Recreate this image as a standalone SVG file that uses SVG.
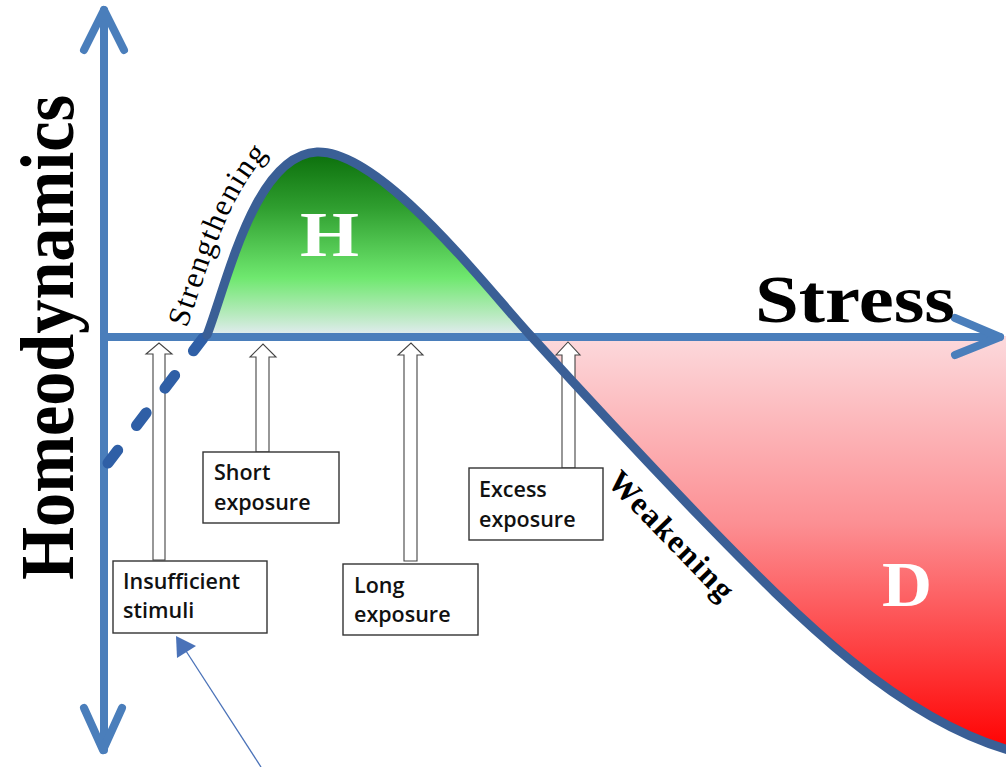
<svg xmlns="http://www.w3.org/2000/svg" width="1006" height="767" viewBox="0 0 1006 767">
  <defs>
    <linearGradient id="gradGreen" x1="0" y1="152" x2="0" y2="337" gradientUnits="userSpaceOnUse">
      <stop offset="0" stop-color="#0b6e0b"/>
      <stop offset="0.3" stop-color="#2f9e2f"/>
      <stop offset="0.68" stop-color="#6fe86f"/>
      <stop offset="0.88" stop-color="#b8eabf"/>
      <stop offset="1" stop-color="#e6ecf5"/>
    </linearGradient>
    <linearGradient id="gradRed" x1="0" y1="337" x2="0" y2="752" gradientUnits="userSpaceOnUse">
      <stop offset="0" stop-color="#fcd9dc"/>
      <stop offset="0.45" stop-color="#fc8f93"/>
      <stop offset="1" stop-color="#ff0000"/>
    </linearGradient>
    <path id="strengthPath" d="M186,330 C207,274 241,133 317,130"/>
    <style>
      .axis { fill: none; stroke: #4a7ebb; stroke-width: 8; stroke-linecap: round; stroke-linejoin: round; }
      .curve { fill: none; stroke: #3a5f96; stroke-width: 9; stroke-linecap: round; }
      .dash { fill: none; stroke: #2f5fa6; stroke-width: 11; stroke-linecap: round; stroke-dasharray: 16 31; }
      .block { fill: #ffffff; stroke: #444444; stroke-width: 1.1; }
      .box { fill: #ffffff; stroke: #333333; stroke-width: 1.4; }
      .lbl { font-family: "Open Sans", "Liberation Sans", sans-serif; font-weight: 600; font-size: 21.5px; fill: #111111; }
      .serif { font-family: "Liberation Serif", "Times New Roman", serif; }
      .big { font-weight: bold; fill: #000000; }
      .zone { font-weight: bold; fill: #ffffff; font-size: 64px; }
    </style>
  </defs>

  <rect width="1006" height="767" fill="#ffffff"/>

  <!-- shaded zones under / over the response curve -->
  <g id="zones">
    <path id="zoneH" d="M207,336 C228,280 255,155 317,152 C380,150 480,280 530,336 Z" fill="url(#gradGreen)"/>
    <path id="zoneD" d="M530,336 C580,390 650,465 700,517 C800,620 900,720 1010,751 L1010,336 Z" fill="url(#gradRed)"/>
  </g>

  <!-- axes -->
  <g id="axes">
    <line class="axis" x1="104" y1="10" x2="104" y2="750"/>
    <polyline class="axis" points="84,50 104,10 124,50"/>
    <polyline class="axis" points="84,708 103,750 122,708"/>
    <line class="axis" x1="104" y1="337" x2="1000" y2="337"/>
    <polyline class="axis" points="955,318 1000,337 955,355"/>
  </g>

  <g id="connectors">
    <!-- block arrows pointing at the stress axis -->
    <polygon class="block" points="153,560 153,354 146,354 159,343 172,354 165,354 165,560"/>
    <polygon class="block" points="256,452 256,357 250,357 263,344 276,357 269,357 269,452"/>
    <polygon class="block" points="404,561 404,355 398,355 411,343 423,355 417,355 417,561"/>
    <polygon class="block" points="562,468 562,355 556,355 568,342 580,355 575,355 575,468"/>
    <!-- response curve, dashed below the threshold -->
    <path class="dash" d="M108,463 L207,333"/>
    <path class="curve" d="M207,335 C228,280 255,155 317,152 C380,150 480,280 530,335 C580,390 650,465 700,517 C800,620 900,720 1012,751"/>
    <!-- thin pointer -->
    <line x1="186" y1="651" x2="261" y2="767" stroke="#4a72b8" stroke-width="1.3"/>
    <polygon points="176,636 177,658 196,646" fill="#4a72b8"/>
  </g>

  <!-- exposure labels -->
  <g id="insufficient">
    <rect class="box" x="113" y="561" width="154" height="72"/>
    <text class="lbl" x="123" y="589">Insufficient</text>
    <text class="lbl" x="123" y="618">stimuli</text>
  </g>
  <g id="short">
    <rect class="box" x="203" y="452" width="136" height="71"/>
    <text class="lbl" x="214" y="480">Short</text>
    <text class="lbl" x="214" y="510">exposure</text>
  </g>
  <g id="long">
    <rect class="box" x="343" y="564" width="135" height="71"/>
    <text class="lbl" x="354" y="593">Long</text>
    <text class="lbl" x="354" y="622">exposure</text>
  </g>
  <g id="excess">
    <rect class="box" x="469" y="468" width="134" height="72"/>
    <text class="lbl" x="479" y="497">Excess</text>
    <text class="lbl" x="479" y="527">exposure</text>
  </g>

  <!-- axis titles and zone letters -->
  <g id="titles">
    <text class="serif big" font-size="76" transform="translate(73,580) rotate(-90)" textLength="485" lengthAdjust="spacingAndGlyphs">Homeodynamics</text>
    <text class="serif big" font-size="68" x="755" y="322" textLength="200" lengthAdjust="spacingAndGlyphs">Stress</text>
    <text class="serif zone" x="300" y="256" textLength="59" lengthAdjust="spacingAndGlyphs">H</text>
    <text class="serif zone" x="882" y="606" textLength="50" lengthAdjust="spacingAndGlyphs">D</text>
    <text class="serif" font-size="31" fill="#000000" letter-spacing="1.6"><textPath href="#strengthPath" startOffset="2">Strengthening</textPath></text>
    <text class="serif" font-size="32" font-weight="bold" fill="#000000" transform="translate(606,483) rotate(46)" textLength="166" lengthAdjust="spacing">Weakening</text>
  </g>
</svg>
